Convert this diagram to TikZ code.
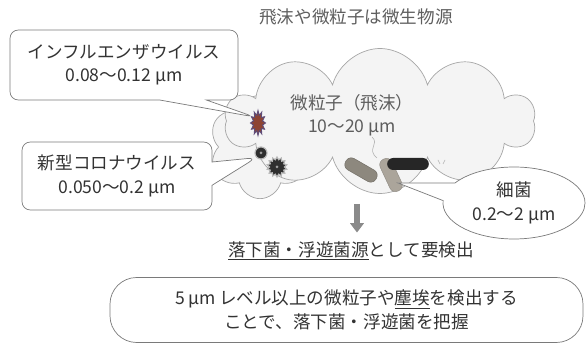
\documentclass[tikz,border=0pt]{standalone}
\usepackage{fontspec}
\setmainfont{Noto Sans CJK JP}
\usetikzlibrary{shapes.symbols,shapes.geometric,shapes.callouts,arrows.meta}

\definecolor{linegray}{HTML}{7A7A7A}
\definecolor{cloudfill}{HTML}{F4F4F4}
\definecolor{cloudline}{HTML}{A6A6A6}
\definecolor{textdark}{HTML}{333333}
\definecolor{textsoft}{HTML}{5E5E5E}
\definecolor{flured}{HTML}{8E4433}
\definecolor{fluspike}{HTML}{5E4C78}
\definecolor{coronadark}{HTML}{2F2F2F}
\definecolor{rodgray}{HTML}{8D887E}
\definecolor{rodpale}{HTML}{ABA59B}
\definecolor{rodblack}{HTML}{262626}
\definecolor{arrowgray}{HTML}{8A8A8A}

\begin{document}
\begin{tikzpicture}[x=0.3mm,y=-0.3mm,
		font=\fontsize{15}{20}\selectfont,
		puff/.style={cloud, cloud ignores aspect, draw=cloudline, fill=cloudfill, line width=0.6pt, inner sep=0pt},
		infobox/.style={draw=linegray, fill=white, line width=0.6pt, text=textdark, align=center, inner sep=0pt},
		tagbox/.style={infobox, rectangle callout, rounded corners=2.5mm},
		rod/.style={rectangle, rounded corners=1.8mm, inner sep=0pt, minimum height=3.9mm},
		germ/.style={circle, fill=coronadark, draw=gray!55, line width=1pt, inner sep=0pt,
			path picture={\fill[gray!75] (path picture bounding box.center) circle (0.45mm);}}]
	\useasboundingbox (0,0) rectangle (587,347);
	
	\node[text=textsoft] (headline) at (356,17) {飛沫や微粒子は微生物源};
	
	% droplet cloud
	\node[puff, cloud puffs=6, minimum width=31mm, minimum height=31mm] (lobe) at (260,147) {};
	\node[puff, cloud puffs=10, minimum width=93mm, minimum height=43.5mm] (drop) at (380,121) {};
	\node[text=textsoft, align=center] (droptext) at (352,115) {微粒子（飛沫）\\10〜20 μm};
	
	% microbes inside the droplet
	\node[star, star points=12, star point ratio=1.6, fill=flured, draw=fluspike, line width=0.8pt,
		minimum size=7.5mm, inner sep=0pt, xscale=0.6] (flu) at (258,123) {};
	\node[germ, minimum size=3.6mm] (covidA) at (261,153) {};
	\node[germ, star, star points=14, star point ratio=1.35, minimum size=6mm] (covidB) at (277,167) {};
	\begin{scope}[every node/.style={rod}]
		\node[fill=rodgray, draw=rodgray!80!black, minimum width=10.5mm, rotate=-30] (rodA) at (361,170) {};
		\node[fill=rodpale, draw=rodpale!85!black, minimum width=10.5mm, rotate=-65] (rodB) at (391,175) {};
		\node[fill=rodblack, minimum width=12.5mm, minimum height=3.6mm] (rodC) at (408,164) {};
	\end{scope}
	\draw[gray!60, line width=0.5pt] (372,137) .. controls (380,144) and (366,149) .. (377,158);
	\draw[gray!60, line width=0.5pt] (438,160) -- (440,164) (445,160) -- (443,164);
	\coordinate (rodtip) at (398,183);
	
	% size callouts
	\node[tagbox, minimum width=68.4mm, minimum height=21mm, callout absolute pointer={(flu.north west)},
		callout pointer width=14mm] (flubox) at (124,65) {インフルエンザウイルス\\0.08〜0.12 μm};
	\node[tagbox, minimum width=57mm, minimum height=20.4mm, callout absolute pointer={(covidA.south west)},
		callout pointer width=7mm] (covidbox) at (117,176) {新型コロナウイルス\\0.050〜0.2 μm};
	\node[infobox, ellipse callout, minimum width=42.6mm, minimum height=21.6mm, callout absolute pointer={(rodtip)},
		callout pointer arc=30] (germbox) at (514,203) {細菌\\0.2〜2 μm};
	
	% detection
	\node[text=textdark] (need) at (351,251) {\underline{落下菌・浮遊菌源}として要検出};
	\coordinate (drip) at (357,204);
	\draw[-{Triangle[width=4mm,length=2.8mm]}, line width=1.8mm, arrowgray, shorten >=1.5mm] (drip) -- (drip |- need.north);
	
	\node[infobox, rounded corners=8mm, minimum width=141.9mm, minimum height=19.5mm] (grasp) at (346.5,310)
		{5 μm\,レベル以上の微粒子や\underline{塵埃}を検出する\\ことで、落下菌・浮遊菌を把握};
\end{tikzpicture}
\end{document}
